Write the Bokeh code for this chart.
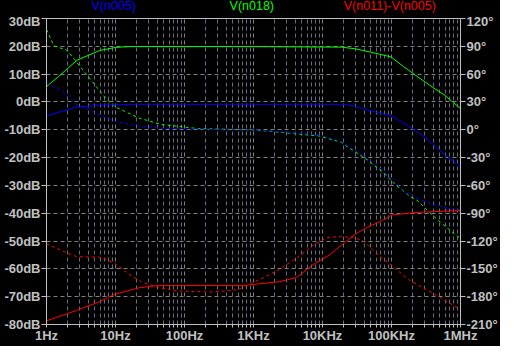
import math
from bokeh.plotting import figure
from bokeh.models import Range1d, LinearAxis, FixedTicker, Div
from bokeh.layouts import column
from bokeh.embed import file_html
from bokeh.resources import INLINE

# ---- data ----
# V(n018) magnitude [dB] and phase [deg]
f_g_mag = [1, 1.5, 2, 2.77, 5.9, 10, 15.7, 1e3, 18.8e3, 30e3, 50e3, 98e3, 150e3, 234e3, 400e3, 600e3, 1e6]
g_mag = [5.5, 9.2, 11.9, 15.0, 18.5, 19.6, 19.9, 19.9, 19.7, 19.1, 17.9, 16.2, 12.7, 9.2, 5.2, 2.3, -2.4]
f_g_ph = [1, 1.28, 2, 3, 5, 7.3, 10, 22, 46, 156, 1.1e3, 8.8e3, 18.8e3, 21.5e3, 45e3, 77e3, 111e3, 191e3, 234e3, 458e3, 870e3, 1e6]
g_ph = [108, 90.6, 85.6, 69.2, 48.7, 33.4, 24.6, 12.6, 5.7, 1.3, -0.3, -6.6, -13.5, -16.9, -32.6, -46.5, -58.5, -72.4, -76, -96.7, -114, -117]

# V(n005) magnitude [dB] and phase [deg]
f_b_mag = [1, 2.74, 5.9, 10, 20, 1e3, 18.8e3, 30e3, 45e3, 105e3, 209e3, 327e3, 600e3, 1e6]
b_mag = [-5.0, -1.8, -1.2, -1.0, -0.85, -0.85, -0.85, -1.5, -2.9, -5.2, -9.9, -13.3, -19.0, -23.2]
f_b_ph = [1, 1.97, 2.74, 5.9, 9.6, 22, 52, 464, 1.1e3, 8.8e3, 18.8e3, 45e3, 77e3, 99e3, 155e3, 327e3, 710e3, 1e6]
b_ph = [50.7, 38.5, 27.6, 16.1, 9.0, 3.9, 1.5, -0.3, 0.0, -5.5, -12.5, -31, -44.5, -51.6, -67.2, -78.3, -85.6, -86.6]

# V(n011)-V(n005) magnitude [dB] and phase [deg]
f_r_mag = [1, 2.74, 5.9, 9.6, 22, 42, 720, 1e3, 2.4e3, 4.2e3, 7.3e3, 12.6e3, 21.4e3, 30e3, 45e3, 70e3, 102e3, 234e3, 1e6]
r_mag = [-78.7, -74.9, -71.8, -69.2, -66.8, -66.0, -66.0, -65.6, -64.6, -63.1, -58.5, -55.0, -50.4, -47.5, -45.0, -42.9, -40.6, -39.7, -39.0]
f_r_ph = [1, 2, 2.74, 5.9, 9.6, 15.7, 24.4, 42, 81, 240, 580, 900, 2.15e3, 4.2e3, 7.3e3, 11.4e3, 16.5e3, 27e3, 38e3, 78e3, 187e3, 450e3, 1e6]
r_ph = [-122.8, -133, -136.8, -137.5, -143.7, -155.8, -164.6, -169.9, -174, -175, -172.6, -166.3, -152.4, -138.5, -124.6, -116.6, -115.3, -115.9, -119.3, -140, -162.8, -178.5, -194]

# ticks
x_ticks = [1, 10, 100, 1e3, 1e4, 1e5, 1e6]
x_labels = ["1Hz", "10Hz", "100Hz", "1KHz", "10KHz", "100KHz", "1MHz"]
db_ticks = [30, 20, 10, 0, -10, -20, -30, -40, -50, -60, -70, -80]
deg_ticks = [120, 90, 60, 30, 0, -30, -60, -90, -120, -150, -180, -210]

titles = ["V(n005)", "V(n018)", "V(n011)-V(n005)"]
title_f = [9.6, 960, 96000]
title_colors = ["#0000ff", "#00ff00", "#ff0000"]

# ---- styling ----
BG = "#000000"
FG = "#c0c0c0"
GRID = "#808080"
MINOR = "#6a6a84"
FONT = "Liberation Sans"
LEFT, RIGHT, TOP, BOTTOM = 46, 40, 5, 22
FW, FH = 414, 306
HEAD = 13

p = figure(frame_width=FW, frame_height=FH, x_axis_type="log",
           x_range=Range1d(1, 1e6), y_range=Range1d(-80, 30),
           output_backend="svg", toolbar_location=None,
           background_fill_color=BG, border_fill_color=BG,
           min_border_left=LEFT, min_border_right=RIGHT,
           min_border_top=TOP, min_border_bottom=BOTTOM)
p.extra_y_ranges = {"phase": Range1d(-210, 120)}
p.outline_line_color = FG
p.outline_line_width = 1

minor = [m * 10 ** d for d in range(0, 6) for m in range(2, 10)]
p.xaxis.ticker = FixedTicker(ticks=x_ticks, minor_ticks=minor)
p.xaxis.major_label_overrides = {t: l for t, l in zip(x_ticks, x_labels)}
p.yaxis.ticker = FixedTicker(ticks=db_ticks)
p.yaxis.major_label_overrides = {t: f"{t}dB" for t in db_ticks}

right = LinearAxis(y_range_name="phase", ticker=FixedTicker(ticks=deg_ticks))
right.major_label_overrides = {t: f"{t}\u00b0" for t in deg_ticks}
p.add_layout(right, "right")

for ax in [p.xaxis[0], p.yaxis[0], right]:
    ax.axis_line_color = FG
    ax.major_tick_line_color = FG
    ax.minor_tick_line_color = FG
    ax.major_tick_in = 0
    ax.minor_tick_in = 0
    ax.major_tick_out = 5
    ax.minor_tick_out = 0
    ax.major_label_text_color = FG
    ax.major_label_text_font = FONT
    ax.major_label_text_font_size = "13px"
    ax.major_label_text_font_style = "bold"
    ax.major_label_standoff = 1
p.xaxis.minor_tick_out = 3
p.xaxis.major_tick_out = 3
p.xaxis.major_label_standoff = 0

p.xgrid.ticker = p.xaxis[0].ticker
p.xgrid.grid_line_color = GRID
p.xgrid.grid_line_dash = "4 3"
p.xgrid.minor_grid_line_color = MINOR
p.xgrid.minor_grid_line_dash = "4 3"
p.ygrid.ticker = p.yaxis[0].ticker
p.ygrid.grid_line_color = GRID
p.ygrid.grid_line_dash = "4 3"

# ---- curves ----
p.line(f_g_mag, g_mag, line_color="#00ff00", line_width=1)
p.line(f_g_ph, g_ph, line_color="#00ff00", line_width=1, line_dash="3 3", y_range_name="phase")
p.line(f_b_mag, b_mag, line_color="#0000ff", line_width=1)
p.line(f_b_ph, b_ph, line_color="#0000ff", line_width=1, line_dash="3 3", y_range_name="phase")
p.line(f_r_mag, r_mag, line_color="#ff0000", line_width=1)
p.line(f_r_ph, r_ph, line_color="#ff0000", line_width=1, line_dash="3 3", y_range_name="phase")

# ---- trace names above the plot (HTML header strip) ----
spans = "".join(
    f'<span style="position:absolute;left:{LEFT + FW * math.log10(f) / 6:.1f}px;top:0px;'
    f'transform:translateX(-50%);color:{c};white-space:nowrap">{t}</span>'
    for t, f, c in zip(titles, title_f, title_colors))
head = Div(text=(f'<div style="position:relative;width:{LEFT + FW + RIGHT}px;height:{HEAD}px;'
                 f"background:#000;font-family:'{FONT}';font-size:12.5px;line-height:13px\">{spans}</div>"),
           width=LEFT + FW + RIGHT, height=HEAD, styles={"background-color": BG, "margin": "0"})

layout = column(head, p, spacing=0, styles={"background-color": BG})
open("out.html", "w").write(file_html(layout, INLINE))
